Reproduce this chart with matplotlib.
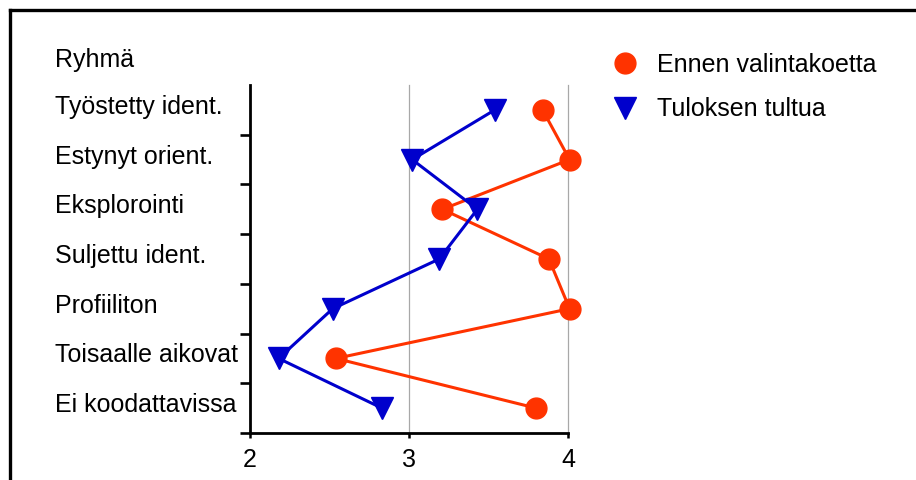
import matplotlib
matplotlib.use("Agg")
import matplotlib.pyplot as plt
from matplotlib.lines import Line2D
from matplotlib.transforms import blended_transform_factory, ScaledTranslation

# ---- data ----
categories = ["Työstetty ident.", "Estynyt orient.", "Eksplorointi",
              "Suljettu ident.", "Profiiliton", "Toisaalle aikovat",
              "Ei koodattavissa"]
before = [3.84, 4.01, 3.21, 3.88, 4.01, 2.54, 3.80]   # Ennen valintakoetta
after = [3.54, 3.02, 3.43, 3.19, 2.52, 2.18, 2.83]    # Tuloksen tultua
series_names = ["Ennen valintakoetta", "Tuloksen tultua"]
header = "Ryhmä"
xticks = [2, 3, 4]
xtick_labels = ["2", "3", "4"]

RED = "#ff3300"
BLUE = "#0000cc"
FONT = "Liberation Sans"
FS = 18

plt.rcParams["font.family"] = [FONT, "DejaVu Sans"]

W, H = 916, 480
fig = plt.figure(figsize=(W / 100, H / 100), dpi=100)
ax = fig.add_axes([250 / W, 47 / H, 318 / W, 348 / H])

n = len(categories)
ypos = [n - i for i in range(n)]

# gridlines
for xv in xticks[1:]:
    ax.axvline(xv, color="#a8a8a8", lw=0.9, zorder=0, clip_on=False)

ax.plot(before, ypos, color=RED, lw=2.2, marker="o", ms=15, zorder=3,
        clip_on=False)
ax.plot(after, ypos, color=BLUE, lw=2.2, marker="v", ms=15.5, zorder=4,
        clip_on=False)

ax.set_xlim(2, 4)
ax.set_ylim(0.5, n + 0.5)
for s in ["top", "right"]:
    ax.spines[s].set_visible(False)
for s in ["left", "bottom"]:
    ax.spines[s].set_linewidth(2.0)
    ax.spines[s].set_color("black")

ax.set_xticks(xticks)
ax.set_xticklabels(xtick_labels, fontsize=FS)
ax.tick_params(axis="x", length=3.6, width=1.8, pad=7.5, direction="out")
ax.set_yticks([k + 0.5 for k in range(n)])
ax.set_yticklabels([])
ax.tick_params(axis="y", length=7, width=1.9, direction="out")

# category labels
trans = blended_transform_factory(fig.transFigure, ax.transData) + \
    ScaledTranslation(0, -4 / 100, fig.dpi_scale_trans)
for cat, yv in zip(categories, ypos):
    ax.text(55 / W, yv, cat, transform=trans, fontsize=FS, ha="left",
            va="baseline", clip_on=False)
fig.text(55 / W, (H - 67) / H, header, fontsize=FS, ha="left", va="baseline")

# legend
handles = [Line2D([], [], ls="none", marker="o", color=RED, ms=15),
           Line2D([], [], ls="none", marker="v", color=BLUE, ms=15.5)]
fig.legend(handles, series_names, loc="upper left",
           bbox_to_anchor=(612 / W, (H - 53) / H), frameon=False,
           fontsize=FS, borderpad=0, borderaxespad=0, handlelength=1.0,
           handletextpad=0.8, labelspacing=0.82)

# outer frame (left and top edges)
fig.add_artist(Line2D([10 / W, 10 / W], [0, (H - 10) / H], color="black",
                      lw=2.4, transform=fig.transFigure))
fig.add_artist(Line2D([10 / W, 1], [(H - 10) / H, (H - 10) / H],
                      color="black", lw=2.4, transform=fig.transFigure))

fig.savefig("out.png", dpi=100)
